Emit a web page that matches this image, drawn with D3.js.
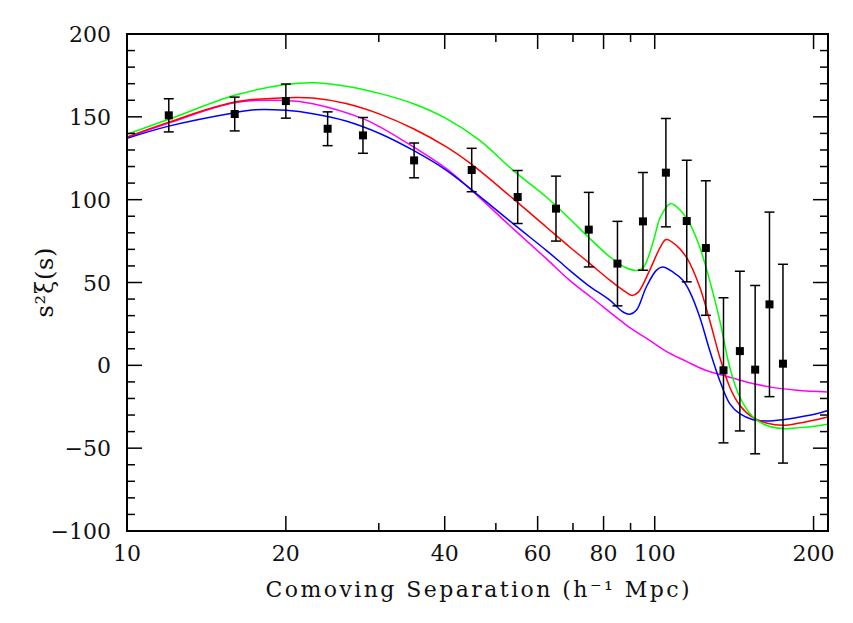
<!DOCTYPE html>
<html><head><meta charset="utf-8">
<script src="https://cdn.jsdelivr.net/npm/d3@7"></script>
<style>body{margin:0;background:#fff}</style>
</head><body>
<script>
// ---- data ----
const sep   = [12, 16, 20, 24, 28, 35, 45, 55, 65, 75, 85, 95, 105, 115, 125, 135, 145, 155, 165, 175];
const xi    = [150.9, 151.7, 159.5, 142.8, 138.8, 123.7, 117.9, 101.6, 94.6, 81.9, 61.4, 86.9, 116.3, 87.1, 70.8, -3.0, 8.6, -2.6, 36.8, 1.0];
const sigma = [10.0, 10.2, 10.3, 10.2, 10.8, 10.5, 13.1, 16.0, 19.6, 22.5, 25.5, 29.5, 32.7, 36.7, 40.6, 43.8, 48.2, 50.8, 55.7, 60.0];

const greenS = [10, 12, 16, 20, 22.5, 26, 30.2, 34.9, 40.3, 46.6, 53.9, 62.3, 69.0, 74.8, 82.3, 88.2, 92.3, 95.1, 99.5, 102.5, 107.1, 111.9, 116.5, 121.7, 127.1, 132.8, 138.7, 144.9, 153.6, 162.7, 175.0, 188.3, 202.5, 213];
const greenV = [139.5, 148.5, 163, 169.5, 170.6, 168.5, 164, 157.9, 148.9, 135.8, 117.7, 101.6, 88.5, 77.5, 65.4, 58.9, 57.3, 58.9, 75.4, 89.5, 97.6, 93.5, 85.5, 71.4, 51.3, 27.2, -1, -19.1, -31.2, -36.2, -38.2, -37.6, -36.6, -35.6];

const redS = [10, 12, 16, 20, 22.5, 26, 30.2, 34.9, 40.3, 45, 53.9, 62.3, 66.1, 69.0, 74.8, 82.3, 88.2, 90.7, 93.1, 97.8, 102.5, 105.1, 109.9, 115.2, 121.7, 127.1, 132.8, 138.7, 144.9, 153.6, 162.7, 175.0, 188.3, 202.5, 213];
const redV = [137.8, 146.8, 158.9, 161.5, 161.3, 158, 151.5, 142.8, 131.8, 121.3, 100.6, 83.5, 76.5, 71.4, 62.3, 51.3, 44.2, 42.2, 44.2, 57.3, 71.4, 76, 72.4, 64.5, 47.3, 27.2, 5, -13.1, -24.1, -31.6, -34.8, -36.2, -34.8, -32.8, -31.2];

const blueS = [10, 12, 16, 17.5, 20, 22.5, 26, 30.2, 34.9, 40.3, 46.6, 53.9, 62.3, 66.1, 69.0, 74.8, 82.3, 87.1, 89.7, 92.3, 96.4, 100.7, 103.4, 108.3, 113.1, 116.5, 121.7, 127.1, 132.8, 138.7, 144.9, 153.6, 162.7, 175.0, 188.3, 202.5, 213];
const blueV = [137, 144.4, 152.5, 154.3, 153.9, 151.9, 147.5, 139.8, 129.7, 117.7, 102, 85.5, 69.4, 62.5, 57.3, 48.3, 39.2, 32.2, 30.8, 33.2, 47.3, 57.3, 59.3, 56.3, 51.3, 44.5, 29.2, 9.1, -9.1, -23.1, -29.2, -32.8, -33.6, -32.8, -31.2, -29.2, -27.2];

const magS = [10, 12, 16, 20, 22.5, 28, 30.2, 34.9, 40.3, 45, 53.9, 62.3, 69.0, 76.4, 90.3, 97.8, 104.9, 114.6, 124.5, 134.7, 149.2, 165, 186, 213];
const magV = [137.4, 146.3, 158.5, 159.9, 157.9, 148.9, 143.8, 131.8, 118.7, 105.6, 82.5, 64.4, 51.3, 40.2, 22.1, 15.1, 8.6, 2.5, -2.8, -6, -10, -13, -15, -16.1];

const xTickMajor = [10, 20, 40, 60, 80, 100, 200];
const xTickMinor = [30, 50, 70, 90];
const yTickMajor = [-100, -50, 0, 50, 100, 150, 200];

// ---- layout ----
const W = 853, H = 623;
const L = 127, R = 828, T = 34, B = 531;
const FONT = "'DejaVu Serif', serif";

const svg = d3.select("body").append("svg").attr("width", W).attr("height", H);

const x = d3.scaleLog().domain([10, 213]).range([L, R]);
const y = d3.scaleLinear().domain([-100, 200]).range([B, T]);

svg.append("clipPath").attr("id", "c").append("rect")
  .attr("x", L).attr("y", T).attr("width", R - L).attr("height", B - T);

// curves
const curves = [
  {s: magS, v: magV, c: "#ff00ff"},
  {s: blueS, v: blueV, c: "#0000ff"},
  {s: redS, v: redV, c: "#ff0000"},
  {s: greenS, v: greenV, c: "#00ff00"}
];
const line = d3.line().x(d => x(d[0])).y(d => y(d[1])).curve(d3.curveCatmullRom.alpha(0.5));
const gC = svg.append("g").attr("clip-path", "url(#c)");
curves.forEach(cv => {
  gC.append("path").datum(cv.s.map((s, i) => [s, cv.v[i]]))
    .attr("d", line).attr("fill", "none").attr("stroke", cv.c).attr("stroke-width", 1.5);
});

// error bars
const pts = sep.map((s, i) => ({s, v: xi[i], e: sigma[i]}));
const gE = svg.append("g").attr("stroke", "#000").attr("stroke-width", 1.5);
pts.forEach(p => {
  const px = x(p.s);
  gE.append("line").attr("x1", px).attr("x2", px).attr("y1", y(p.v + p.e)).attr("y2", y(p.v - p.e));
  gE.append("line").attr("x1", px - 5).attr("x2", px + 5).attr("y1", y(p.v + p.e)).attr("y2", y(p.v + p.e));
  gE.append("line").attr("x1", px - 5).attr("x2", px + 5).attr("y1", y(p.v - p.e)).attr("y2", y(p.v - p.e));
});
svg.append("g").selectAll("rect").data(pts).join("rect")
  .attr("x", d => x(d.s) - 4).attr("y", d => y(d.v) - 4)
  .attr("width", 8).attr("height", 8).attr("fill", "#000");

// axes (ticks inward on all sides)
const yMinor = d3.range(-100, 201, 10).filter(v => v % 50 !== 0);
const gA = svg.append("g").attr("stroke", "#000").attr("stroke-width", 1.5);
yTickMajor.forEach(v => {
  gA.append("line").attr("x1", L).attr("x2", L + 15).attr("y1", y(v)).attr("y2", y(v));
  gA.append("line").attr("x1", R).attr("x2", R - 15).attr("y1", y(v)).attr("y2", y(v));
});
yMinor.forEach(v => {
  gA.append("line").attr("x1", L).attr("x2", L + 8).attr("y1", y(v)).attr("y2", y(v));
  gA.append("line").attr("x1", R).attr("x2", R - 8).attr("y1", y(v)).attr("y2", y(v));
});
xTickMajor.forEach(v => {
  gA.append("line").attr("x1", x(v)).attr("x2", x(v)).attr("y1", B).attr("y2", B - 15);
  gA.append("line").attr("x1", x(v)).attr("x2", x(v)).attr("y1", T).attr("y2", T + 15);
});
xTickMinor.forEach(v => {
  gA.append("line").attr("x1", x(v)).attr("x2", x(v)).attr("y1", B).attr("y2", B - 8);
  gA.append("line").attr("x1", x(v)).attr("x2", x(v)).attr("y1", T).attr("y2", T + 8);
});
svg.append("rect").attr("x", L).attr("y", T).attr("width", R - L).attr("height", B - T)
  .attr("fill", "none").attr("stroke", "#000").attr("stroke-width", 2);

// tick labels
const fmtY = v => (v < 0 ? "\u2212" : "") + Math.abs(v);
svg.append("g").selectAll("text").data(yTickMajor).join("text")
  .attr("x", 111).attr("y", d => y(d) + 8).attr("text-anchor", "end")
  .attr("font-family", FONT).attr("font-size", 22).attr("fill", "#111")
  .text(fmtY);
svg.append("g").selectAll("text").data(xTickMajor).join("text")
  .attr("x", d => x(d)).attr("y", 561).attr("text-anchor", "middle")
  .attr("font-family", FONT).attr("font-size", 22).attr("fill", "#111")
  .text(d => d);

// axis titles
svg.append("text").attr("x", (L + R) / 2).attr("y", 597).attr("text-anchor", "middle")
  .attr("font-family", FONT).attr("font-size", 22).attr("fill", "#111")
  .attr("textLength", 424).attr("lengthAdjust", "spacing")
  .text("Comoving Separation (h\u207B\u00B9 Mpc)");
svg.append("text").attr("transform", `translate(53,${(T + B) / 2}) rotate(-90)`)
  .attr("text-anchor", "middle")
  .attr("font-family", FONT).attr("font-size", 24).attr("fill", "#111")
  .attr("textLength", 70).attr("lengthAdjust", "spacing")
  .text("s\u00B2\u03BE(s)");
</script>
</body></html>
